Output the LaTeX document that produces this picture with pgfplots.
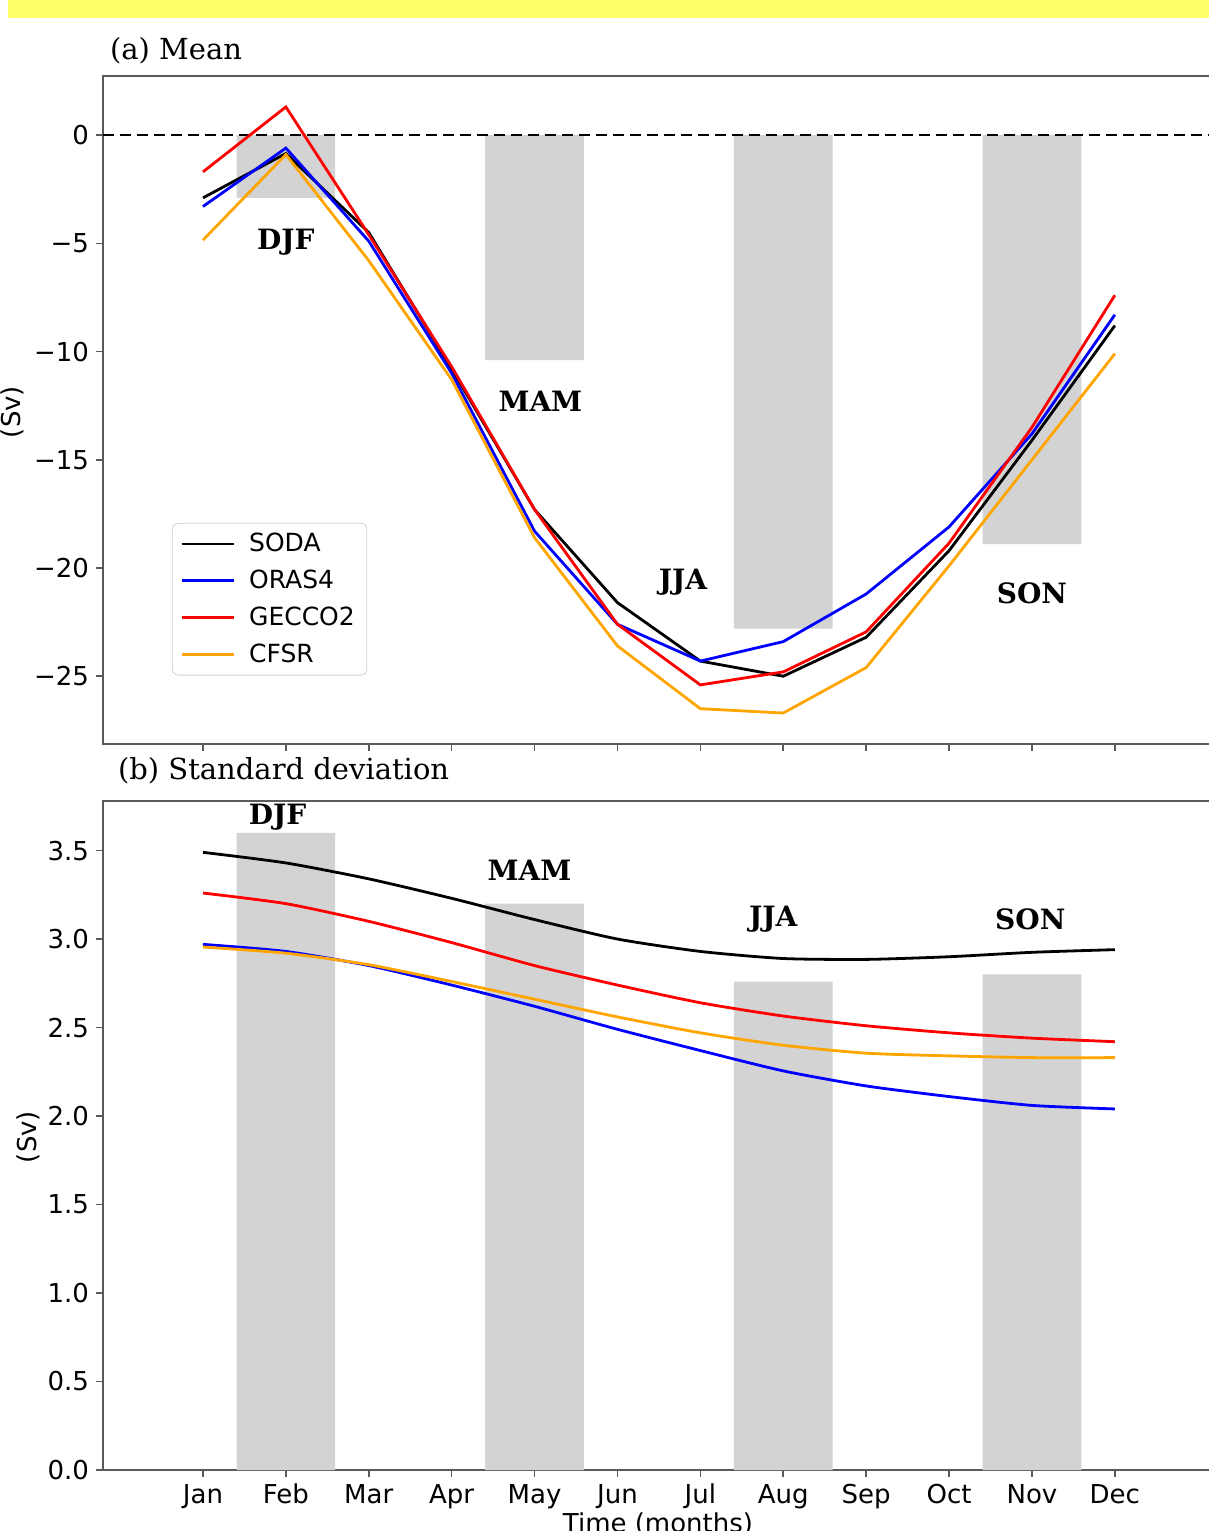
\documentclass[border=0pt]{standalone}
\usepackage{fontspec}
\setmainfont{DejaVu Sans}
\newfontfamily\seriffont{DejaVu Serif}
\usepackage{pgfplots}
\usepackage{pgfplotstable}
\pgfplotsset{compat=1.18}
\definecolor{bargray}{RGB}{211,211,211}
\definecolor{cforange}{RGB}{255,165,0}
\definecolor{bannercol}{RGB}{255,255,102}
\definecolor{axgray}{RGB}{90,90,90}

\pgfplotstableread{
m soda oras gecco cfsr
1 -2.9 -3.3 -1.7 -4.85
2 -0.85 -0.6 1.3 -0.9
3 -4.5 -4.9 -4.6 -5.8
4 -10.8 -11.0 -10.7 -11.3
5 -17.3 -18.3 -17.3 -18.6
6 -21.6 -22.6 -22.6 -23.6
7 -24.3 -24.3 -25.4 -26.5
8 -25.0 -23.4 -24.8 -26.7
9 -23.2 -21.2 -22.95 -24.6
10 -19.2 -18.1 -18.85 -19.9
11 -14.1 -13.8 -13.5 -15.0
12 -8.8 -8.3 -7.4 -10.1
}\meantab

\pgfplotstableread{
m soda oras gecco cfsr
1 3.49 2.97 3.26 2.955
2 3.43 2.93 3.20 2.92
3 3.34 2.85 3.10 2.855
4 3.23 2.74 2.98 2.76
5 3.11 2.62 2.85 2.66
6 3.00 2.49 2.74 2.56
7 2.93 2.37 2.64 2.47
8 2.89 2.255 2.565 2.40
9 2.885 2.17 2.51 2.355
10 2.90 2.11 2.47 2.34
11 2.925 2.06 2.44 2.33
12 2.94 2.04 2.42 2.33
}\stdtab

\pgfplotstableread{
m v
2 -2.9
5 -10.4
8 -22.8
11 -18.9
}\meanbars

\pgfplotstableread{
m v
2 3.6
5 3.2
8 2.76
11 2.80
}\stdbars

\pgfplotsset{
  panel/.style={
    scale only axis, anchor=south west,
    width=556pt,
    xmin=-0.206, xmax=13.208,
    axis line style={axgray, line width=0.9pt},
    tick style={axgray, line width=0.8pt},
    major tick length=3.5pt,
    tick align=outside,
    xtick pos=left, ytick pos=left,
    xtick={1,...,12},
    ticklabel style={font=\fontsize{13}{15}\selectfont},
    /pgf/number format/assume math mode=true,
  },
}
\tikzset{seas/.style={font=\seriffont\bfseries\fontsize{14}{17}\selectfont}}

\begin{document}
\begin{tikzpicture}[x=1pt,y=1pt]
\useasboundingbox (0,0) rectangle (604.5,765.5);
\fill[bannercol] (4,756.5) rectangle (606,767);

% (a) Mean
\begin{axis}[panel,
  at={(51.5pt,393.5pt)}, height=334pt,
  ymin=-28.13, ymax=2.73,
  ytick={-25,-20,-15,-10,-5,0},
  yticklabels={−25,−20,−15,−10,−5,0},
  xticklabels={},
  legend style={at={(0.062,0.331)}, anchor=north west,
    draw=black!18, rounded corners=3pt, fill=white,
    font=\fontsize{12.5}{14}\selectfont,
    inner xsep=4pt, inner ysep=3pt, row sep=3.6pt, column sep=5pt},
  legend cell align=left,
  legend image code/.code={\draw[#1] (0pt,0pt) -- (26pt,0pt);},
]
\addplot[ybar, bar width=1.19, fill=bargray, draw=none, forget plot] table[x=m,y=v] {\meanbars};
\addplot[black, line width=0.9pt, dash pattern=on 5.5pt off 3pt, forget plot] coordinates {(-0.206,0) (13.208,0)};
\addplot[black, line width=1.4pt] table[x=m,y=soda] {\meantab};
\addplot[blue, line width=1.4pt] table[x=m,y=oras] {\meantab};
\addplot[red, line width=1.4pt] table[x=m,y=gecco] {\meantab};
\addplot[cforange, line width=1.4pt] table[x=m,y=cfsr] {\meantab};
\legend{SODA,ORAS4,GECCO2,CFSR}
\node[seas] at (axis cs:2,-4.94) {DJF};
\node[seas] at (axis cs:5.07,-12.29) {MAM};
\node[seas] at (axis cs:6.79,-20.65) {JJA};
\node[seas] at (axis cs:11.0,-21.15) {SON};
\end{axis}

% (b) Standard deviation
\begin{axis}[panel,
  at={(51.5pt,30.5pt)}, height=334.5pt,
  ymin=0, ymax=3.78,
  ytick={0,0.5,1,1.5,2,2.5,3,3.5},
  yticklabels={0.0,0.5,1.0,1.5,2.0,2.5,3.0,3.5},
  xticklabels={Jan,Feb,Mar,Apr,May,Jun,Jul,Aug,Sep,Oct,Nov,Dec},
]
\addplot[ybar, bar width=1.19, fill=bargray, draw=none, forget plot] table[x=m,y=v] {\stdbars};
\addplot[black, line width=1.4pt, smooth, tension=0.4] table[x=m,y=soda] {\stdtab};
\addplot[blue, line width=1.4pt, smooth, tension=0.4] table[x=m,y=oras] {\stdtab};
\addplot[red, line width=1.4pt, smooth, tension=0.4] table[x=m,y=gecco] {\stdtab};
\addplot[cforange, line width=1.4pt, smooth, tension=0.4] table[x=m,y=cfsr] {\stdtab};
\node[seas] at (axis cs:1.9,3.69) {DJF};
\node[seas] at (axis cs:4.94,3.39) {MAM};
\node[seas] at (axis cs:7.88,3.11) {JJA};
\node[seas] at (axis cs:10.98,3.11) {SON};
\end{axis}

\node[anchor=west, font=\seriffont\fontsize{14.5}{18}\selectfont] at (51.5,740) {(a) Mean};
\node[anchor=west, font=\seriffont\fontsize{14.5}{18}\selectfont] at (55.5,380) {(b) Standard deviation};
\node[rotate=90, font=\fontsize{13}{15}\selectfont] at (6,559.5) {(Sv)};
\node[rotate=90, font=\fontsize{13}{15}\selectfont] at (14,197) {(Sv)};
\node[anchor=base, font=\fontsize{13}{15}\selectfont] at (329,-1) {Time (months)};
\end{tikzpicture}
\end{document}
